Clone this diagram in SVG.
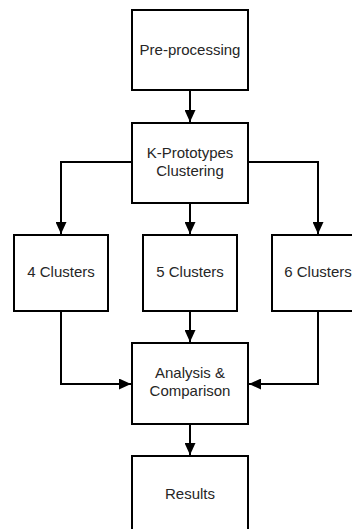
<svg xmlns="http://www.w3.org/2000/svg" width="352" height="529" viewBox="0 0 352 529">
  <style>
    .box { fill: #ffffff; stroke: #000000; stroke-width: 2; }
    .lbl { font-family: "Liberation Sans", Arial, sans-serif; font-size: 15px; fill: #262626; text-anchor: middle; }
    .edge { fill: none; stroke: #000000; stroke-width: 2; }
  </style>
  <defs>
    <marker id="arrow" markerUnits="userSpaceOnUse" markerWidth="12" markerHeight="11" refX="12" refY="5.5" orient="auto">
      <path d="M0,0 L12,5.5 L0,11 z" fill="#000000"/>
    </marker>
  </defs>
  <rect width="352" height="529" fill="#ffffff"/>

  <g id="connectors">
    <path class="edge" d="M190,90 V122" marker-end="url(#arrow)"/>
    <path class="edge" d="M132,162 H61 V234" marker-end="url(#arrow)"/>
    <path class="edge" d="M190,203 V234" marker-end="url(#arrow)"/>
    <path class="edge" d="M248,162 H318 V234" marker-end="url(#arrow)"/>
    <path class="edge" d="M61,311 V384 H131" marker-end="url(#arrow)"/>
    <path class="edge" d="M190,311 V342" marker-end="url(#arrow)"/>
    <path class="edge" d="M318,311 V384 H249" marker-end="url(#arrow)"/>
    <path class="edge" d="M190,424 V455" marker-end="url(#arrow)"/>
  </g>

  <g id="preprocessing">
    <rect class="box" x="132" y="10" width="116" height="80"/>
    <text class="lbl" x="190" y="55">Pre-processing</text>
  </g>
  <g id="kprototypes">
    <rect class="box" x="132" y="123" width="116" height="80"/>
    <text class="lbl" x="190" y="158">K-Prototypes</text>
    <text class="lbl" x="190" y="176">Clustering</text>
  </g>
  <g id="clusters4">
    <rect class="box" x="14" y="235" width="94" height="76"/>
    <text class="lbl" x="61" y="277">4 Clusters</text>
  </g>
  <g id="clusters5">
    <rect class="box" x="143" y="235" width="94" height="76"/>
    <text class="lbl" x="190" y="277">5 Clusters</text>
  </g>
  <g id="clusters6">
    <rect class="box" x="272" y="235" width="94" height="76"/>
    <text class="lbl" x="318" y="277">6 Clusters</text>
  </g>
  <g id="analysis">
    <rect class="box" x="132" y="343" width="116" height="81"/>
    <text class="lbl" x="190" y="378">Analysis &amp;</text>
    <text class="lbl" x="190" y="396">Comparison</text>
  </g>
  <g id="results">
    <rect class="box" x="132" y="456" width="116" height="80"/>
    <text class="lbl" x="190" y="499">Results</text>
  </g>
</svg>
